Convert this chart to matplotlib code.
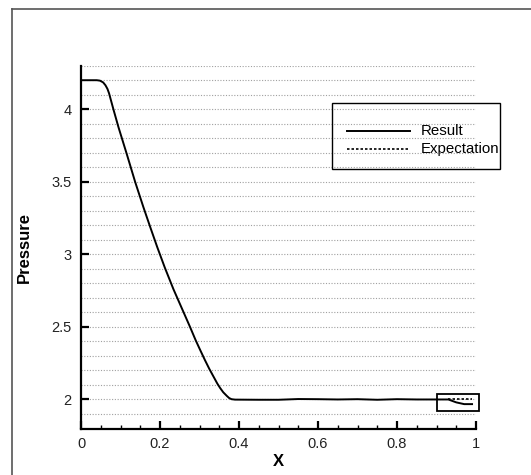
import matplotlib
matplotlib.use("Agg")
import matplotlib.pyplot as plt
from matplotlib.patches import Rectangle
from matplotlib.lines import Line2D
import numpy as np

plt.rcParams['font.family'] = ['Liberation Sans', 'DejaVu Sans']

# Data
x_result = [0.0, 0.02, 0.04, 0.048, 0.056, 0.062, 0.067, 0.071, 0.076, 0.082, 0.095, 0.116, 0.137,
            0.158, 0.175, 0.193, 0.212, 0.234, 0.255, 0.276, 0.29, 0.301, 0.314,
            0.325, 0.335, 0.345, 0.352, 0.36, 0.369, 0.375, 0.381, 0.39, 0.45,
            0.50, 0.55, 0.60, 0.65, 0.70, 0.75, 0.80, 0.85, 0.90, 0.93, 0.95,
            0.97, 0.99]
p_result = [4.2, 4.2, 4.2, 4.197, 4.185, 4.165, 4.14, 4.11, 4.06, 4.0, 3.875, 3.69, 3.5,
            3.325, 3.19, 3.05, 2.91, 2.76, 2.63, 2.5, 2.41, 2.345, 2.27,
            2.21, 2.16, 2.11, 2.08, 2.05, 2.025, 2.01, 2.002, 1.999, 1.998,
            1.998, 2.003, 2.002, 2.0, 2.002, 1.998, 2.002, 2.0, 2.0, 2.0, 1.98,
            1.968, 1.968]

x_expect = [0.93, 0.95, 0.97, 0.99]
p_expect = [2.0, 2.0, 2.0, 2.0]

x_ticks = [0, 0.2, 0.4, 0.6, 0.8, 1]
x_ticklabels = ["0", "0.2", "0.4", "0.6", "0.8", "1"]
y_ticks = [2, 2.5, 3, 3.5, 4]
y_ticklabels = ["2", "2.5", "3", "3.5", "4"]
grid_levels = np.round(np.arange(1.9, 4.31, 0.1), 2)

legend_labels = ["Result", "Expectation"]
box_x = [0.90, 1.008]
box_y = [1.924, 2.04]

W, H = 531, 475
fig = plt.figure(figsize=(W / 100, H / 100), dpi=100)
ax = fig.add_axes([81 / W, 1 - 428.5 / H, (476 - 81) / W, (428.5 - 65.7) / H])

# grid lines
for g in grid_levels:
    ax.axhline(g, color='#a0a0a0', lw=0.8, ls=(0, (1, 1.5)), zorder=1)

ax.plot(x_expect, p_expect, color='black', lw=1.2, ls=(0, (1.5, 1.2)), zorder=3)
ax.plot(x_result, p_result, color='black', lw=1.4, zorder=4)

ax.add_patch(Rectangle((box_x[0], box_y[0]), box_x[1] - box_x[0], box_y[1] - box_y[0],
                       fill=False, ec='black', lw=1.3, zorder=5, clip_on=False))

ax.set_xlim(0, 1)
ax.set_ylim(1.8, 4.3)
ax.set_xticks(x_ticks)
ax.set_xticklabels(x_ticklabels)
ax.set_xticks(np.arange(0, 1.001, 0.05), minor=True)
ax.set_yticks(y_ticks)
ax.set_yticklabels(y_ticklabels)

for s in ['top', 'right']:
    ax.spines[s].set_visible(False)
for s in ['left', 'bottom']:
    ax.spines[s].set_linewidth(1.6)

ax.tick_params(axis='both', which='major', direction='in', length=6, width=1.6,
               labelsize=10.5, colors='black', labelcolor='#222222')
ax.tick_params(axis='x', which='minor', direction='in', length=3, width=1.0)
ax.tick_params(axis='y', which='major', pad=7)
ax.tick_params(axis='x', which='major', pad=6)

ax.set_xlabel('X', fontsize=12, fontweight='bold', labelpad=2)
ax.set_ylabel('Pressure', fontsize=12, fontweight='bold', labelpad=14)

# legend (drawn in figure pixel coordinates)
def fx(px):
    return px / W

def fy(py):
    return 1 - py / H

fig.add_artist(Rectangle((fx(332), fy(169)), fx(500) - fx(332), fy(103) - fy(169),
                         transform=fig.transFigure, fill=False, ec='black', lw=1.0))
fig.add_artist(Line2D([fx(347), fx(410)], [fy(131), fy(131)], transform=fig.transFigure,
                      color='black', lw=1.4))
fig.add_artist(Line2D([fx(347), fx(410)], [fy(149), fy(149)], transform=fig.transFigure,
                      color='black', lw=1.2, ls=(0, (1.5, 1.2))))
fig.text(fx(421), fy(131), legend_labels[0], fontsize=10.8, va='center', ha='left')
fig.text(fx(421), fy(149), legend_labels[1], fontsize=10.8, va='center', ha='left')

# outer frame (partially visible)
fig.add_artist(Line2D([fx(12), 1.0], [fy(9), fy(9)], transform=fig.transFigure,
                      color='#555555', lw=1.2))
fig.add_artist(Line2D([fx(12), fx(12)], [fy(9), 0.0], transform=fig.transFigure,
                      color='#555555', lw=1.2))

fig.savefig('out.png', dpi=100)
